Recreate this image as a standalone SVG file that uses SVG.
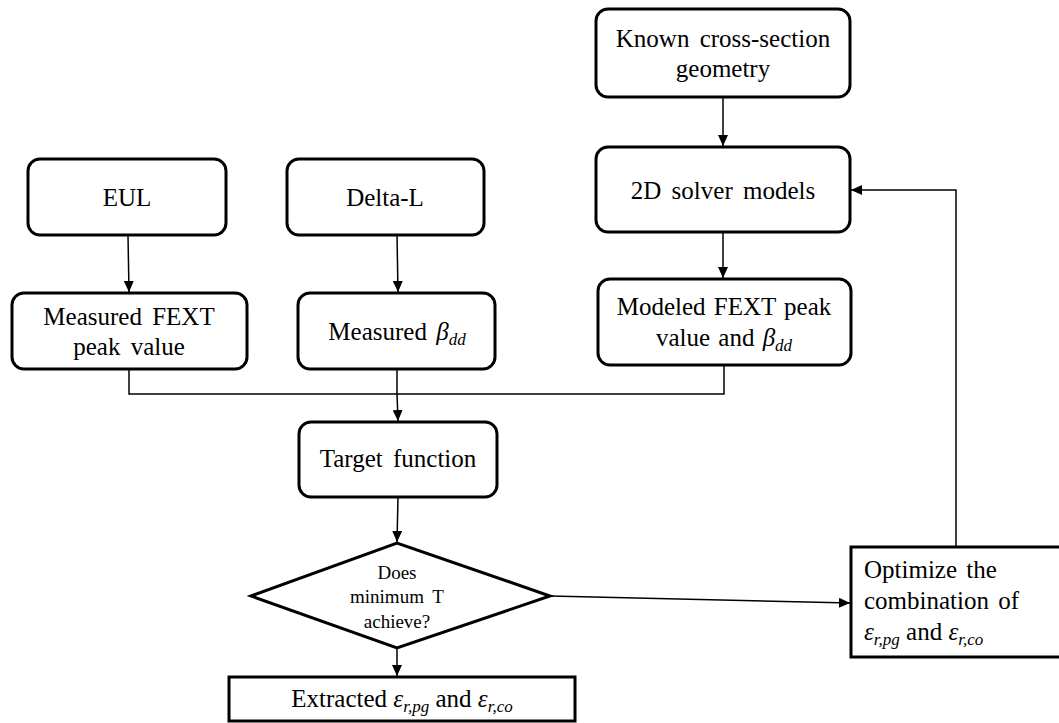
<svg xmlns="http://www.w3.org/2000/svg" width="1059" height="723" viewBox="0 0 1059 723">
<defs>
<marker id="ah" markerUnits="userSpaceOnUse" markerWidth="12" markerHeight="10" refX="11" refY="5" orient="auto">
<path d="M0,0 L11,5 L0,10 z" fill="#000"/>
</marker>
</defs>
<rect width="1059" height="723" fill="#fff"/>
<g id="connectors" fill="none" stroke="#000" stroke-width="1.5">
<line x1="128" y1="235" x2="129" y2="292" marker-end="url(#ah)"/>
<line x1="397" y1="235" x2="398" y2="292" marker-end="url(#ah)"/>
<line x1="723" y1="97" x2="723" y2="146" marker-end="url(#ah)"/>
<line x1="723" y1="232" x2="723" y2="278" marker-end="url(#ah)"/>
<polyline points="129,369 129,394 724,394 724,365"/>
<line x1="397" y1="369" x2="397" y2="394"/>
<line x1="397" y1="394" x2="398" y2="421" marker-end="url(#ah)"/>
<line x1="398" y1="497" x2="397" y2="542" marker-end="url(#ah)"/>
<line x1="397" y1="648" x2="397" y2="676" marker-end="url(#ah)"/>
<line x1="550" y1="596" x2="850" y2="603" marker-end="url(#ah)"/>
<polyline points="956,547 956,190 851,190" marker-end="url(#ah)"/>
</g>
<g id="eul">
<rect fill="#fff" stroke="#000" stroke-width="3" x="28" y="159" width="198" height="76" rx="12"/>
<text style="font-family:'Liberation Serif',serif !important" font-size="25" text-anchor="middle" x="127" y="206">EUL</text>
</g>
<g id="deltal">
<rect fill="#fff" stroke="#000" stroke-width="3" x="287" y="159" width="197" height="76" rx="12"/>
<text style="font-family:'Liberation Serif',serif !important" font-size="25" text-anchor="middle" x="385" y="206">Delta-L</text>
</g>
<g id="measured-fext">
<rect fill="#fff" stroke="#000" stroke-width="3" x="12" y="293" width="235" height="76" rx="12"/>
<text style="font-family:'Liberation Serif',serif !important" font-size="25" text-anchor="middle" x="129" y="325" word-spacing="4">Measured FEXT</text>
<text style="font-family:'Liberation Serif',serif !important" font-size="25" text-anchor="middle" x="129" y="355" word-spacing="4">peak value</text>
</g>
<g id="measured-beta">
<rect fill="#fff" stroke="#000" stroke-width="3" x="298" y="293" width="197" height="76" rx="12"/>
<text style="font-family:'Liberation Serif',serif !important" font-size="25" text-anchor="middle" x="397" y="340" word-spacing="3">Measured <tspan font-style="italic">β</tspan><tspan font-style="italic" font-size="17" dy="5">dd</tspan></text>
</g>
<g id="known">
<rect fill="#fff" stroke="#000" stroke-width="3" x="596" y="9" width="254" height="88" rx="12"/>
<text style="font-family:'Liberation Serif',serif !important" font-size="25" text-anchor="middle" x="723" y="47" word-spacing="4">Known cross-section</text>
<text style="font-family:'Liberation Serif',serif !important" font-size="25" text-anchor="middle" x="723" y="77">geometry</text>
</g>
<g id="solver">
<rect fill="#fff" stroke="#000" stroke-width="3" x="596" y="147" width="254" height="85" rx="12"/>
<text style="font-family:'Liberation Serif',serif !important" font-size="25" text-anchor="middle" x="723" y="199" word-spacing="4">2D solver models</text>
</g>
<g id="modeled">
<rect fill="#fff" stroke="#000" stroke-width="3" x="598" y="279" width="253" height="86" rx="12"/>
<text style="font-family:'Liberation Serif',serif !important" font-size="25" text-anchor="middle" x="724" y="315" word-spacing="2">Modeled FEXT peak</text>
<text style="font-family:'Liberation Serif',serif !important" font-size="25" text-anchor="middle" x="724" y="346" word-spacing="2">value and <tspan font-style="italic">β</tspan><tspan font-style="italic" font-size="17" dy="5">dd</tspan></text>
</g>
<g id="target">
<rect fill="#fff" stroke="#000" stroke-width="3" x="299" y="422" width="198" height="75" rx="12"/>
<text style="font-family:'Liberation Serif',serif !important" font-size="25" text-anchor="middle" x="398" y="467" word-spacing="4">Target function</text>
</g>
<g id="decision">
<polygon fill="#fff" stroke="#000" stroke-width="3" points="251,596 397,543 550,596 397,648"/>
<text style="font-family:'Liberation Serif',serif !important" font-size="19" text-anchor="middle" x="397" y="579">Does</text>
<text style="font-family:'Liberation Serif',serif !important" font-size="19" text-anchor="middle" x="397" y="603" word-spacing="4">minimum T</text>
<text style="font-family:'Liberation Serif',serif !important" font-size="19" text-anchor="middle" x="397" y="628">achieve?</text>
</g>
<g id="extracted">
<rect fill="#fff" stroke="#000" stroke-width="3" x="229" y="677" width="346" height="44"/>
<text style="font-family:'Liberation Serif',serif !important" font-size="25" text-anchor="middle" x="402" y="707">Extracted <tspan font-style="italic">ε</tspan><tspan font-style="italic" font-size="17" dy="5">r,pg</tspan><tspan dy="-5"> and </tspan><tspan font-style="italic">ε</tspan><tspan font-style="italic" font-size="17" dy="5">r,co</tspan></text>
</g>
<g id="optimize">
<rect fill="#fff" stroke="#000" stroke-width="3" x="851" y="547" width="215" height="110"/>
<text style="font-family:'Liberation Serif',serif !important" font-size="25" x="864" y="578" word-spacing="3">Optimize the</text>
<text style="font-family:'Liberation Serif',serif !important" font-size="25" x="864" y="609" word-spacing="3">combination of</text>
<text style="font-family:'Liberation Serif',serif !important" font-size="25" x="864" y="640"><tspan font-style="italic">ε</tspan><tspan font-style="italic" font-size="17" dy="5">r,pg</tspan><tspan dy="-5"> and </tspan><tspan font-style="italic">ε</tspan><tspan font-style="italic" font-size="17" dy="5">r,co</tspan></text>
</g>
</svg>
